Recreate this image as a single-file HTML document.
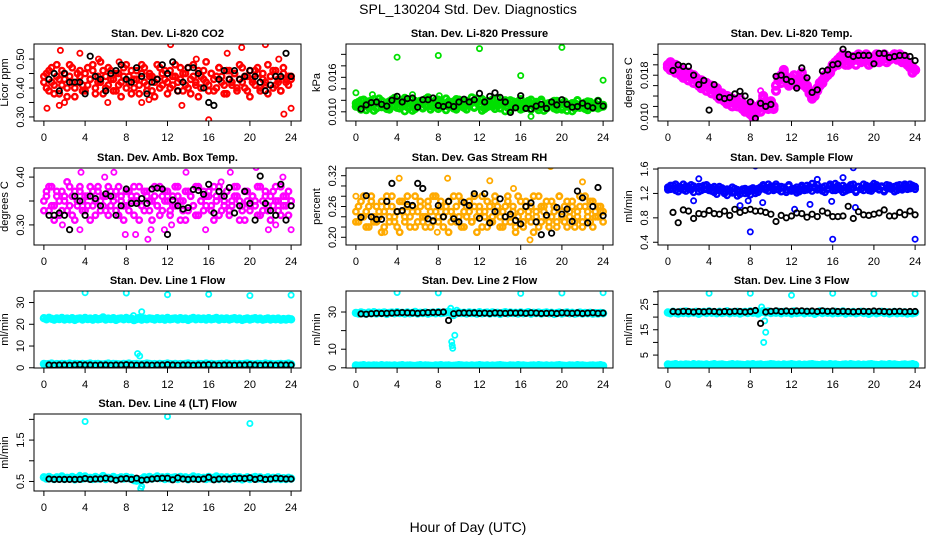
<!DOCTYPE html>
<html><head><meta charset="utf-8"><title>SPL_130204 Std. Dev. Diagnostics</title>
<style>html,body{margin:0;padding:0;background:#fff}svg{display:block;font-family:"Liberation Sans",Arial,sans-serif}</style>
</head><body>
<svg id="chart" width="936" height="540" viewBox="0 0 936 540" xmlns="http://www.w3.org/2000/svg">
<rect x="0" y="0" width="936" height="540" fill="#fff"/>
<text x="468" y="14" text-anchor="middle" font-size="14">SPL_130204  Std. Dev. Diagnostics</text>
<text x="468" y="532" text-anchor="middle" font-size="14">Hour of Day (UTC)</text>
</svg>
<script>
// ---- shared ----
const xTicks=[0,4,8,12,16,20,24];
const blackHours=[0.5,1,1.5,2,2.5,3,3.5,4,4.5,5,5.5,6,6.5,7,7.5,8,8.5,9,9.5,10,10.5,11,11.5,12,12.5,13,13.5,14,14.5,15,15.5,16,16.5,17,17.5,18,18.5,19,19.5,20,20.5,21,21.5,22,22.5,23,23.5,24];
// ---- CO2 ----
const co2A=[0.42,0.45,0.39,0.47,0.41,0.44,0.38,0.46,0.43,0.40,0.48,0.42,0.37,0.45,0.44,0.41,0.39,0.47,0.43,0.46,0.40,0.42,0.49,0.38,0.44,0.41,0.46,0.43,0.39,0.45,0.42,0.47,0.40,0.44,0.38,0.43,0.46,0.41,0.48,0.42,0.39,0.45,0.44,0.37,0.43,0.47,0.41,0.46,0.42,0.40,0.44,0.48,0.39,0.43,0.45,0.41,0.47,0.38,0.44,0.42,0.46,0.40,0.43,0.49,0.41,0.45,0.39,0.44,0.47,0.42,0.38,0.46,0.43,0.41,0.45,0.40,0.48,0.42,0.44,0.39,0.46,0.43,0.41,0.47,0.40,0.45,0.42,0.38,0.44,0.46,0.41,0.43,0.39,0.47,0.42,0.44,0.43];
const co2B=[0.44,0.40,0.46,0.42,0.38,0.48,0.43,0.41,0.45,0.37,0.44,0.47,0.40,0.42,0.46,0.39,0.45,0.41,0.43,0.48,0.38,0.44,0.42,0.46,0.40,0.47,0.43,0.39,0.45,0.41,0.37,0.44,0.48,0.42,0.46,0.40,0.43,0.38,0.45,0.47,0.41,0.44,0.39,0.42,0.48,0.40,0.45,0.43,0.38,0.46,0.41,0.44,0.42,0.47,0.39,0.45,0.40,0.43,0.48,0.41,0.37,0.44,0.46,0.42,0.39,0.45,0.43,0.40,0.47,0.44,0.41,0.38,0.46,0.42,0.45,0.39,0.43,0.47,0.40,0.44,0.37,0.42,0.46,0.45,0.39,0.43,0.41,0.48,0.44,0.40,0.46,0.42,0.39,0.45,0.43,0.41,0.44];
const co2OutX=[0.3,1.6,1.5,2,3.5,6.2,9.5,12.3,13.4,16,17.8,19.2,21.5,23.3,24,22.8,14.8,10.2,5.3,7.3];
const co2OutY=[0.33,0.53,0.34,0.35,0.52,0.35,0.35,0.55,0.34,0.29,0.52,0.54,0.55,0.31,0.33,0.50,0.50,0.36,0.50,0.49];
const co2Black=[0.43,0.45,0.39,0.45,0.42,0.42,0.42,0.38,0.51,0.44,0.43,0.39,0.45,0.46,0.48,0.43,0.42,0.47,0.44,0.38,0.42,0.43,0.48,0.45,0.49,0.39,0.42,0.47,0.47,0.45,0.40,0.35,0.34,0.43,0.46,0.43,0.46,0.43,0.44,0.46,0.44,0.42,0.39,0.41,0.44,0.44,0.52,0.44];
// ---- Pressure ----
const presA=[0.0115,0.0108,0.0120,0.0112,0.0103,0.0118,0.0110,0.0122,0.0106,0.0114,0.0119,0.0109,0.0116,0.0104,0.0121,0.0111,0.0107,0.0118,0.0113,0.0124,0.0108,0.0115,0.0102,0.0119,0.0111,0.0117,0.0106,0.0122,0.0110,0.0114,0.0108,0.0120,0.0105,0.0116,0.0112,0.0123,0.0109,0.0115,0.0118,0.0104,0.0121,0.0111,0.0107,0.0119,0.0113,0.0125,0.0108,0.0116,0.0110,0.0122,0.0105,0.0114,0.0119,0.0109,0.0112,0.0124,0.0106,0.0117,0.0101,0.0115,0.0120,0.0108,0.0113,0.0118,0.0104,0.0111,0.0107,0.0116,0.0121,0.0109,0.0114,0.0103,0.0118,0.0110,0.0106,0.0115,0.0112,0.0119,0.0104,0.0113,0.0108,0.0117,0.0102,0.0111,0.0115,0.0106,0.0120,0.0109,0.0113,0.0105,0.0118,0.0110,0.0107,0.0114,0.0119,0.0108,0.0112];
const presB=[0.0109,0.0117,0.0104,0.0121,0.0113,0.0107,0.0119,0.0102,0.0115,0.0123,0.0108,0.0112,0.0105,0.0118,0.0110,0.0124,0.0114,0.0106,0.0120,0.0101,0.0116,0.0109,0.0122,0.0105,0.0113,0.0119,0.0107,0.0111,0.0125,0.0104,0.0117,0.0110,0.0121,0.0108,0.0114,0.0103,0.0118,0.0112,0.0106,0.0122,0.0109,0.0115,0.0120,0.0104,0.0111,0.0117,0.0107,0.0123,0.0113,0.0102,0.0119,0.0108,0.0114,0.0121,0.0105,0.0110,0.0116,0.0112,0.0120,0.0107,0.0103,0.0118,0.0109,0.0115,0.0122,0.0106,0.0113,0.0119,0.0104,0.0111,0.0117,0.0108,0.0121,0.0102,0.0114,0.0110,0.0116,0.0106,0.0119,0.0112,0.0104,0.0118,0.0109,0.0113,0.0101,0.0115,0.0120,0.0107,0.0111,0.0116,0.0103,0.0117,0.0110,0.0114,0.0106,0.0112,0.0109];
const presOutX=[0,1.6,4,8,12,16,20,24,5.5,0.5,8.1,17];
const presOutY=[0.0133,0.0130,0.0195,0.0198,0.0210,0.0163,0.0212,0.0155,0.0130,0.0105,0.0128,0.0092];
const presBlack=[0.0105,0.0112,0.0116,0.0117,0.0113,0.0110,0.0120,0.0127,0.0117,0.0123,0.0124,0.0108,0.0121,0.0121,0.0124,0.0111,0.0109,0.0112,0.0109,0.0117,0.0122,0.0117,0.0121,0.0132,0.0117,0.0127,0.0133,0.0125,0.0117,0.0099,0.0107,0.0128,0.0106,0.0105,0.0110,0.0113,0.0106,0.0117,0.0112,0.0121,0.0113,0.0108,0.0109,0.0115,0.0110,0.0107,0.0119,0.0110];
// ---- Li-820 Temp ----
const tempA=[0.0200,0.0205,0.0195,0.0200,0.0190,0.0185,0.0190,0.0180,0.0185,0.0175,0.0180,0.0170,0.0165,0.0170,0.0160,0.0165,0.0155,0.0160,0.0150,0.0155,0.0145,0.0140,0.0135,0.0140,0.0130,0.0135,0.0125,0.0130,0.0135,0.0125,0.0120,0.0115,0.0125,0.0110,0.0105,0.0115,0.0125,0.0135,0.0130,0.0120,0.0125,0.0115,0.0160,0.0175,0.0180,0.0185,0.0175,0.0165,0.0170,0.0180,0.0165,0.0175,0.0185,0.0170,0.0160,0.0150,0.0140,0.0145,0.0155,0.0160,0.0170,0.0180,0.0185,0.0190,0.0200,0.0205,0.0210,0.0215,0.0220,0.0215,0.0210,0.0205,0.0215,0.0210,0.0220,0.0215,0.0210,0.0220,0.0215,0.0205,0.0215,0.0220,0.0210,0.0215,0.0220,0.0215,0.0210,0.0215,0.0220,0.0215,0.0220,0.0210,0.0215,0.0205,0.0200,0.0195,0.0190];
const tempB=[0.0195,0.0190,0.0200,0.0185,0.0195,0.0180,0.0175,0.0185,0.0170,0.0180,0.0165,0.0175,0.0160,0.0155,0.0165,0.0150,0.0160,0.0145,0.0155,0.0140,0.0135,0.0145,0.0130,0.0125,0.0135,0.0120,0.0130,0.0120,0.0125,0.0115,0.0110,0.0120,0.0105,0.0100,0.0115,0.0120,0.0110,0.0140,0.0125,0.0115,0.0130,0.0120,0.0150,0.0170,0.0165,0.0190,0.0170,0.0160,0.0175,0.0165,0.0160,0.0170,0.0180,0.0160,0.0155,0.0145,0.0135,0.0140,0.0150,0.0165,0.0165,0.0175,0.0180,0.0185,0.0195,0.0200,0.0200,0.0210,0.0205,0.0200,0.0200,0.0205,0.0210,0.0200,0.0210,0.0205,0.0215,0.0210,0.0200,0.0205,0.0210,0.0215,0.0205,0.0210,0.0215,0.0205,0.0210,0.0215,0.0220,0.0210,0.0215,0.0205,0.0210,0.0200,0.0195,0.0185,0.0190];
const tempOutX=[8.5,9.0,11.2];
const tempOutY=[0.0098,0.0150,0.0190];
const tempBlack=[0.0189,0.0200,0.0197,0.0197,0.0180,0.0162,0.0170,0.0113,0.0162,0.0138,0.0135,0.0137,0.0144,0.0149,0.0140,0.0129,0.0097,0.0126,0.0120,0.0124,0.0178,0.0180,0.0172,0.0168,0.0155,0.0194,0.0175,0.0147,0.0152,0.0188,0.0190,0.0200,0.0202,0.0230,0.0220,0.0216,0.0218,0.0218,0.0218,0.0202,0.0222,0.0222,0.0214,0.0216,0.0218,0.0218,0.0216,0.0208];
// ---- Amb Box Temp ----
const ambA=[0.35,0.37,0.33,0.38,0.34,0.36,0.32,0.37,0.35,0.33,0.38,0.36,0.31,0.34,0.37,0.35,0.33,0.36,0.38,0.34,0.32,0.37,0.35,0.36,0.33,0.38,0.34,0.36,0.37,0.32,0.35,0.34,0.37,0.33,0.36,0.38,0.35,0.31,0.34,0.37,0.36,0.33,0.35,0.38,0.34,0.32,0.36,0.37,0.35,0.33,0.34,0.38,0.36,0.31,0.35,0.37,0.33,0.36,0.34,0.38,0.32,0.35,0.37,0.34,0.36,0.33,0.38,0.35,0.32,0.36,0.34,0.37,0.33,0.35,0.38,0.36,0.31,0.34,0.37,0.35,0.33,0.36,0.34,0.38,0.32,0.35,0.37,0.33,0.36,0.34,0.38,0.35,0.32,0.36,0.34,0.37,0.35];
const ambB=[0.33,0.36,0.38,0.34,0.31,0.37,0.35,0.33,0.36,0.39,0.34,0.32,0.37,0.35,0.38,0.33,0.36,0.34,0.31,0.37,0.35,0.38,0.33,0.34,0.36,0.32,0.37,0.35,0.33,0.38,0.36,0.31,0.34,0.37,0.35,0.32,0.36,0.38,0.34,0.33,0.37,0.35,0.31,0.36,0.34,0.38,0.33,0.35,0.37,0.32,0.36,0.34,0.38,0.35,0.33,0.31,0.37,0.36,0.34,0.32,0.38,0.35,0.33,0.36,0.37,0.34,0.31,0.36,0.38,0.33,0.35,0.37,0.32,0.34,0.36,0.38,0.35,0.33,0.31,0.37,0.34,0.36,0.35,0.32,0.38,0.33,0.36,0.34,0.31,0.37,0.35,0.33,0.38,0.34,0.36,0.32,0.35];
const ambOutX=[3.6,5.9,6.8,7.9,8.9,10.1,10.4,11.7,13.8,15.7,18.1,20.6,21.8,22.5,23.2,24,3.5,1.8,12.4,17.2];
const ambOutY=[0.41,0.40,0.41,0.28,0.28,0.27,0.29,0.29,0.41,0.29,0.41,0.42,0.29,0.30,0.40,0.29,0.29,0.30,0.30,0.39];
const ambBlack=[0.32,0.32,0.325,0.32,0.29,0.36,0.35,0.32,0.36,0.355,0.34,0.365,0.36,0.32,0.34,0.375,0.345,0.345,0.355,0.345,0.375,0.377,0.375,0.28,0.352,0.34,0.333,0.336,0.374,0.372,0.364,0.385,0.325,0.37,0.36,0.378,0.325,0.34,0.37,0.345,0.31,0.402,0.345,0.33,0.32,0.385,0.31,0.34];
// ---- Gas Stream RH ----
const rhA=[0.25,0.23,0.27,0.24,0.22,0.26,0.28,0.24,0.23,0.25,0.27,0.22,0.26,0.24,0.28,0.23,0.25,0.21,0.27,0.24,0.26,0.22,0.25,0.28,0.23,0.26,0.24,0.22,0.27,0.25,0.23,0.28,0.24,0.26,0.22,0.25,0.27,0.23,0.24,0.26,0.28,0.22,0.25,0.24,0.27,0.23,0.26,0.21,0.25,0.28,0.24,0.22,0.26,0.23,0.27,0.25,0.24,0.22,0.26,0.28,0.23,0.25,0.21,0.24,0.27,0.22,0.26,0.25,0.23,0.28,0.24,0.22,0.26,0.25,0.27,0.23,0.24,0.26,0.22,0.28,0.25,0.23,0.27,0.24,0.26,0.22,0.25,0.28,0.23,0.26,0.24,0.27,0.22,0.25,0.24,0.26,0.25];
const rhB=[0.23,0.26,0.24,0.28,0.25,0.22,0.27,0.23,0.26,0.24,0.21,0.25,0.28,0.23,0.26,0.24,0.22,0.27,0.25,0.23,0.28,0.24,0.26,0.22,0.25,0.27,0.23,0.24,0.26,0.22,0.28,0.25,0.23,0.27,0.24,0.26,0.21,0.25,0.28,0.23,0.24,0.27,0.22,0.26,0.25,0.23,0.28,0.24,0.26,0.22,0.25,0.27,0.23,0.24,0.28,0.26,0.22,0.25,0.23,0.27,0.24,0.26,0.22,0.28,0.25,0.23,0.27,0.24,0.26,0.21,0.25,0.28,0.23,0.26,0.24,0.22,0.27,0.25,0.23,0.28,0.24,0.26,0.22,0.25,0.27,0.23,0.24,0.26,0.22,0.28,0.25,0.23,0.27,0.24,0.26,0.25,0.23];
const rhOutX=[4.2,8.9,13,15.3,18.9,22,2.8,0,16.9,7.9];
const rhOutY=[0.315,0.315,0.31,0.295,0.338,0.308,0.21,0.28,0.195,0.21];
const rhBlack=[0.239,0.281,0.24,0.235,0.235,0.27,0.305,0.25,0.252,0.264,0.262,0.305,0.295,0.236,0.232,0.262,0.24,0.27,0.236,0.23,0.268,0.262,0.285,0.237,0.285,0.228,0.25,0.275,0.24,0.245,0.233,0.226,0.26,0.267,0.23,0.205,0.243,0.208,0.258,0.245,0.255,0.231,0.29,0.277,0.228,0.26,0.297,0.242];
// ---- Sample Flow ----
const flowA=[1.30,1.27,1.33,1.25,1.31,1.28,1.35,1.24,1.30,1.26,1.32,1.29,1.23,1.31,1.27,1.34,1.25,1.29,1.22,1.28,1.31,1.26,1.20,1.27,1.24,1.30,1.22,1.26,1.19,1.25,1.28,1.21,1.27,1.24,1.20,1.28,1.30,1.33,1.26,1.35,1.29,1.25,1.31,1.27,1.23,1.30,1.26,1.32,1.24,1.28,1.21,1.27,1.30,1.25,1.33,1.28,1.36,1.31,1.26,1.29,1.24,1.32,1.27,1.35,1.30,1.25,1.33,1.28,1.22,1.30,1.26,1.34,1.29,1.24,1.31,1.27,1.35,1.30,1.25,1.32,1.28,1.34,1.26,1.30,1.23,1.29,1.33,1.27,1.31,1.25,1.34,1.29,1.32,1.27,1.35,1.30,1.31];
const flowB=[1.26,1.33,1.28,1.35,1.23,1.30,1.26,1.32,1.28,1.34,1.22,1.29,1.31,1.25,1.33,1.27,1.30,1.24,1.31,1.19,1.25,1.29,1.23,1.17,1.26,1.21,1.28,1.16,1.24,1.27,1.20,1.25,1.18,1.29,1.26,1.22,1.27,1.34,1.30,1.24,1.32,1.28,1.35,1.26,1.31,1.29,1.22,1.34,1.27,1.25,1.30,1.23,1.33,1.28,1.26,1.31,1.24,1.29,1.34,1.27,1.30,1.22,1.28,1.32,1.25,1.36,1.29,1.26,1.33,1.24,1.30,1.27,1.35,1.22,1.31,1.28,1.25,1.33,1.29,1.24,1.36,1.30,1.27,1.32,1.25,1.34,1.28,1.30,1.23,1.33,1.29,1.26,1.35,1.31,1.28,1.33,1.27];
const flowOutX=[8.5,18,16,24,8,3,2.5,7,13.8,15.9,18.2,12.3,7.8,9.2,14.5,17];
const flowOutY=[1.65,1.62,0.45,0.45,0.57,1.44,1.08,1.0,1.02,1.07,0.97,0.94,1.08,1.05,1.43,1.46];
const flowBlack=[0.89,0.72,0.93,0.91,0.79,0.87,0.86,0.92,0.87,0.86,0.91,0.84,0.94,0.89,0.92,0.94,0.91,0.91,0.89,0.86,0.74,0.84,0.80,0.83,0.88,0.87,0.81,0.86,0.82,0.91,0.88,0.82,0.82,0.83,0.99,0.79,0.90,0.85,0.84,0.86,0.88,0.93,0.83,0.83,0.89,0.85,0.91,0.85];
// ---- Line 1 Flow ----
const l1High=[22.8,22.3,23.0,22.5,22.1,22.7,22.4,22.9,22.2,22.6,22.3,22.8,22.0,22.5,22.7,22.2,22.9,22.4,22.6,22.1,22.8,22.3,22.5,23.1,22.2,22.6,22.4,22.8,22.0,22.5,22.7,22.3,22.9,22.4,22.6,21.9,22.4,22.9,22.1,22.6,22.3,22.7,22.5,22.2,22.8,22.4,22.6,22.1,22.9,22.3,22.5,22.7,22.2,22.8,22.4,22.6,22.0,22.5,22.9,22.3,22.7,22.4,22.6,22.2,22.8,22.3,22.5,22.9,22.1,22.6,22.4,22.7,22.2,22.5,22.8,22.3,22.6,22.0,22.4,22.7,22.2,22.5,22.8,22.3,22.6,22.1,22.4,22.7,22.2,22.5,22.3,22.6,22.1,22.4,22.2,22.5,22.3];
const l1Low=[1.8,1.6,1.7,1.9,1.5,1.7,1.6,1.8,1.7,1.5,1.9,1.6,1.8,1.7,1.6,1.8,1.5,1.7,1.9,1.6,1.7,1.8,1.6,1.5,1.7,1.9,1.6,1.8,1.7,1.6,1.5,1.8,1.7,1.9,1.6,1.7,1.8,1.5,1.6,1.7,1.9,1.8,1.6,1.7,1.5,1.8,1.6,1.7,1.9,1.7,1.6,1.8,1.5,1.7,1.6,1.8,1.9,1.7,1.6,1.5,1.8,1.7,1.6,1.9,1.7,1.8,1.6,1.5,1.7,1.8,1.6,1.9,1.7,1.6,1.8,1.5,1.7,1.6,1.8,1.9,1.7,1.6,1.5,1.8,1.7,1.6,1.9,1.7,1.8,1.6,1.5,1.7,1.8,1.6,1.7,1.9,1.6];
const l1OutX=[4,8,12,16,20,24,8.7,9.5,9.1,9.3];
const l1OutY=[34.5,34.4,33.6,33.8,33.2,33.4,24,25.8,6.5,5.4];
const l1Black=[1.3,1.2,1.3,1.3,1.2,1.3,1.4,1.3,1.3,1.2,1.3,1.3,1.2,1.3,1.3,1.4,1.3,1.2,1.3,1.3,1.2,1.3,1.3,1.4,1.3,1.2,1.3,1.3,1.2,1.3,1.3,1.4,1.3,1.2,1.3,1.3,1.2,1.3,1.3,1.4,1.3,1.2,1.3,1.3,1.2,1.3,1.3,1.3];
// ---- Line 2 Flow ----
const l2High=[29.5,29.2,29.8,29.4,29.1,29.7,29.3,29.9,29.2,29.6,29.4,29.8,29.0,29.5,29.7,29.3,29.9,29.4,29.6,29.2,29.8,29.3,29.5,30.0,29.2,29.6,29.4,29.8,29.1,29.5,29.7,29.3,29.9,29.4,29.6,29.8,30.1,29.5,29.9,29.3,29.7,29.4,29.6,29.2,29.8,29.4,29.6,29.1,29.9,29.3,29.5,29.7,29.2,29.8,29.4,29.6,29.0,29.5,29.9,29.3,29.7,29.4,29.6,29.2,29.8,29.3,29.5,29.9,29.1,29.6,29.4,29.7,29.2,29.5,29.8,29.3,29.6,29.0,29.4,29.7,29.2,29.5,29.8,29.3,29.6,29.1,29.4,29.7,29.2,29.5,29.3,29.6,29.1,29.4,29.2,29.5,29.3];
const l2Low=[1.3,1.1,1.2,1.4,1.0,1.2,1.1,1.3,1.2,1.0,1.4,1.1,1.3,1.2,1.1,1.3,1.0,1.2,1.4,1.1,1.2,1.3,1.1,1.0,1.2,1.4,1.1,1.3,1.2,1.1,1.0,1.3,1.2,1.4,1.1,1.2,1.3,1.0,1.1,1.2,1.4,1.3,1.1,1.2,1.0,1.3,1.1,1.2,1.4,1.2,1.1,1.3,1.0,1.2,1.1,1.3,1.4,1.2,1.1,1.0,1.3,1.2,1.1,1.4,1.2,1.3,1.1,1.0,1.2,1.3,1.1,1.4,1.2,1.1,1.3,1.0,1.2,1.1,1.3,1.4,1.2,1.1,1.0,1.3,1.2,1.1,1.4,1.2,1.3,1.1,1.0,1.2,1.3,1.1,1.2,1.4,1.1];
const l2OutX=[4,8,16,20,24,9.2,9.3,9.35,9.4,9.6,9.8,9.5];
const l2OutY=[40.5,40.3,40.0,40.2,40.4,32,14,12,10.5,17.5,31,28];
const l2Black=[29.0,28.8,29.1,29.3,29.2,29.3,29.4,29.6,29.7,29.6,29.5,29.3,29.6,29.7,29.8,29.8,30.0,25.5,29.1,29.4,29.5,29.4,29.5,29.3,29.4,29.2,29.5,29.4,29.3,29.5,29.4,29.5,29.3,29.6,29.4,29.2,29.3,29.4,29.2,29.6,29.4,29.3,29.5,29.2,29.4,29.6,29.3,29.4];
// ---- Line 3 Flow ----
const l3High=[21.8,21.5,22.1,21.7,21.4,22.0,21.6,22.2,21.5,21.9,21.7,22.1,21.3,21.8,22.0,21.6,22.2,21.7,21.9,21.5,22.1,21.6,21.8,22.3,21.5,21.9,21.7,22.1,21.4,21.8,22.0,21.6,22.2,21.7,21.9,21.4,22.0,22.4,21.8,22.2,21.6,21.9,21.7,22.1,21.5,22.0,21.7,21.9,21.4,22.2,21.6,21.8,22.0,21.5,22.1,21.7,21.9,21.3,21.8,22.2,21.6,22.0,21.7,21.9,21.5,22.1,21.6,21.8,22.2,21.4,21.9,21.7,22.0,21.5,21.8,22.1,21.6,21.9,21.3,21.7,22.0,21.5,21.8,22.1,21.6,21.9,21.4,21.7,22.0,21.5,21.8,21.6,21.9,21.4,21.7,21.5,21.8];
const l3Low=[1.3,1.1,1.2,1.4,1.0,1.2,1.1,1.3,1.2,1.0,1.4,1.1,1.3,1.2,1.1,1.3,1.0,1.2,1.4,1.1,1.2,1.3,1.1,1.0,1.2,1.4,1.1,1.3,1.2,1.1,1.0,1.3,1.2,1.4,1.1,1.2,1.3,1.0,1.1,1.2,1.4,1.3,1.1,1.2,1.0,1.3,1.1,1.2,1.4,1.2,1.1,1.3,1.0,1.2,1.1,1.3,1.4,1.2,1.1,1.0,1.3,1.2,1.1,1.4,1.2,1.3,1.1,1.0,1.2,1.3,1.1,1.4,1.2,1.1,1.3,1.0,1.2,1.1,1.3,1.4,1.2,1.1,1.0,1.3,1.2,1.1,1.4,1.2,1.3,1.1,1.0,1.2,1.3,1.1,1.2,1.4,1.1];
const l3OutX=[4,8,12,16,20,24,9.1,9.3,9.5,9.4];
const l3OutY=[29.4,29.4,28.6,29.4,29.2,29.2,24,10,14,18.5];
const l3Black=[22.2,22.1,22.3,22.2,22.0,22.2,22.1,22.3,22.2,22.0,22.2,22.1,22.3,22.2,22.0,22.2,22.6,17.5,22.0,22.3,22.5,22.2,22.4,22.3,22.4,22.5,22.3,22.4,22.2,22.5,22.3,22.4,22.2,22.3,22.2,22.1,22.2,22.3,22.2,22.4,22.3,22.2,22.1,22.2,22.3,22.1,22.2,22.2];
// ---- Line 4 (LT) Flow ----
const l4High=[0.60,0.57,0.61,0.58,0.56,0.60,0.57,0.62,0.56,0.59,0.58,0.61,0.55,0.59,0.60,0.57,0.62,0.58,0.59,0.56,0.61,0.57,0.59,0.63,0.56,0.59,0.58,0.61,0.55,0.58,0.60,0.57,0.61,0.58,0.59,0.53,0.52,0.54,0.56,0.60,0.58,0.61,0.57,0.59,0.62,0.58,0.60,0.56,0.61,0.57,0.59,0.60,0.56,0.61,0.58,0.60,0.55,0.59,0.62,0.57,0.60,0.58,0.59,0.56,0.61,0.57,0.59,0.62,0.56,0.60,0.58,0.60,0.56,0.59,0.61,0.57,0.60,0.55,0.58,0.60,0.56,0.59,0.61,0.57,0.60,0.56,0.58,0.60,0.56,0.59,0.57,0.60,0.56,0.58,0.56,0.59,0.57];
const l4OutX=[4,12,20,9.4,9.5,3.5];
const l4OutY=[1.95,2.07,1.90,0.33,0.38,0.65];
const l4Black=[0.56,0.55,0.55,0.55,0.55,0.55,0.55,0.57,0.55,0.56,0.56,0.58,0.56,0.53,0.56,0.57,0.55,0.58,0.53,0.54,0.56,0.57,0.58,0.58,0.54,0.59,0.56,0.55,0.56,0.55,0.56,0.60,0.54,0.56,0.56,0.56,0.57,0.58,0.57,0.59,0.55,0.58,0.55,0.56,0.58,0.57,0.56,0.56];

const NS='http://www.w3.org/2000/svg';
const svg=document.getElementById('chart');
const colsX=[34,346,658], rowsY=[44,168,291,414], PW=267, PH=77;
function el(tag,attrs,parent){const e=document.createElementNS(NS,tag);for(const k in attrs)e.setAttribute(k,attrs[k]);(parent||svg).appendChild(e);return e;}
function evenHours(n){const r=[];for(let i=0;i<n;i++)r.push(i*24/(n-1));return r;}

function panel(p){
  const L=colsX[p.c],T=rowsY[p.r];
  const mr=p.mr||2.6, mw=p.mw||2.2;
  const g=el('g',{});
  
  
  const sx=h=>L+(h+0.96)/25.92*PW;
  const sy=v=>T+(p.yTop-v)/(p.yTop-p.yBot)*PH;
  const clip='clip-'+p.name;
  const cp=el('clipPath',{id:clip},g);
  el('rect',{x:L,y:T,width:PW,height:PH},cp);
  const t=el('text',{x:L+PW/2,y:T-7,'text-anchor':'middle','font-size':'11','font-weight':'bold'},g);
  t.textContent=p.title;
  
  
  const yl=el('text',{transform:`translate(${L-26},${T+PH/2}) rotate(-90)`,'text-anchor':'middle','font-size':'11'},g);
  yl.textContent=p.ylab;
  
  
  const xa=el('g',{},g);
  
  
  el('line',{x1:sx(0),x2:sx(24),y1:T+PH,y2:T+PH,stroke:'#000'},xa);
  xTicks.forEach(h=>{
    el('line',{x1:sx(h),x2:sx(h),y1:T+PH,y2:T+PH+5,stroke:'#000'},xa);
    const tx=el('text',{x:sx(h),y:T+PH+20,'text-anchor':'middle','font-size':'11'},xa);
    tx.textContent=String(h);
  });
  const ya=el('g',{},g);
  
  
  p.yTicks.forEach(v=>{
    el('line',{x1:L-5,x2:L,y1:sy(v),y2:sy(v),stroke:'#000'},ya);
  });
  p.yLabels.forEach(s=>{
    const ty=el('text',{transform:`translate(${L-10},${sy(parseFloat(s))}) rotate(-90)`,'text-anchor':'middle','font-size':'11'},ya);
    ty.textContent=s;
  });
  const mk=el('g',{'clip-path':`url(#${clip})`},g);
  
  
  p.series.forEach(arr=>{
    const hs=evenHours(arr.length);
    arr.forEach((v,i)=>{
      const c=el('circle',{cx:sx(hs[i]).toFixed(1),cy:sy(v).toFixed(1),r:mr,fill:'none',stroke:p.color,'stroke-width':mw},mk);
      
      
    });
  });
  p.outX.forEach((h,i)=>{
    const c=el('circle',{cx:sx(h).toFixed(1),cy:sy(p.outY[i]).toFixed(1),r:2.6,fill:'none',stroke:p.color,'stroke-width':1.8},mk);
    
    
  });
  p.black.forEach((v,i)=>{
    const c=el('circle',{cx:sx(blackHours[i]).toFixed(1),cy:sy(v).toFixed(1),r:2.7,fill:'none',stroke:'#000','stroke-width':1.8},mk);
    
    
  });
  const b=el('rect',{x:L,y:T,width:PW,height:PH,fill:'none',stroke:'#000','stroke-width':1},g);
  
  
}

panel({name:'co2',c:0,r:0,title:'Stan. Dev. Li-820 CO2',ylab:'Licor ppm',color:'#ff0000',yTop:0.552,yBot:0.286,mr:2.7,mw:2.4,
  yTicks:[0.30,0.35,0.40,0.45,0.50],yLabels:['0.30','0.40','0.50'],series:[co2A,co2B],outX:co2OutX,outY:co2OutY,black:co2Black});
panel({name:'pressure',c:1,r:0,title:'Stan. Dev. Li-820 Pressure',ylab:'kPa',color:'#00e000',yTop:0.0218,yBot:0.0084,mr:2.8,mw:2.8,
  yTicks:[0.010,0.012,0.014,0.016,0.018,0.020],yLabels:['0.010','0.016'],series:[presA,presB],outX:presOutX,outY:presOutY,black:presBlack});
panel({name:'li820-temp',c:2,r:0,title:'Stan. Dev. Li-820 Temp.',ylab:'degrees C',color:'#ff00ff',yTop:0.0240,yBot:0.0092,mr:3.4,mw:3.4,
  yTicks:[0.010,0.012,0.014,0.016,0.018,0.020,0.022],yLabels:['0.010','0.018'],series:[tempA,tempB],outX:tempOutX,outY:tempOutY,black:tempBlack});
panel({name:'amb-box-temp',c:0,r:1,title:'Stan. Dev. Amb. Box Temp.',ylab:'degrees C',color:'#ff00ff',yTop:0.419,yBot:0.258,mr:2.7,mw:2.4,
  yTicks:[0.30,0.35,0.40],yLabels:['0.30','0.40'],series:[ambA,ambB],outX:ambOutX,outY:ambOutY,black:ambBlack});
panel({name:'gas-stream-rh',c:1,r:1,title:'Stan. Dev. Gas Stream RH',ylab:'percent',color:'#ffaa00',yTop:0.335,yBot:0.185,mr:2.7,mw:2.4,
  yTicks:[0.20,0.22,0.24,0.26,0.28,0.30,0.32],yLabels:['0.20','0.26','0.32'],series:[rhA,rhB],outX:rhOutX,outY:rhOutY,black:rhBlack});
panel({name:'sample-flow',c:2,r:1,title:'Stan. Dev. Sample Flow',ylab:'ml/min',color:'#0000ff',yTop:1.617,yBot:0.355,mr:2.7,mw:2.4,
  yTicks:[0.4,0.8,1.2,1.6],yLabels:['0.4','0.8','1.2','1.6'],series:[flowA,flowB],outX:flowOutX,outY:flowOutY,black:flowBlack});
panel({name:'line1-flow',c:0,r:2,title:'Stan. Dev. Line 1 Flow',ylab:'ml/min',color:'#00ffff',yTop:35.3,yBot:-0.1,mr:2.8,mw:2.8,
  yTicks:[0,10,20,30],yLabels:['0','10','20','30'],series:[l1High,l1Low],outX:l1OutX,outY:l1OutY,black:l1Black});
panel({name:'line2-flow',c:1,r:2,title:'Stan. Dev. Line 2 Flow',ylab:'ml/min',color:'#00ffff',yTop:41.3,yBot:-0.1,mr:2.8,mw:2.8,
  yTicks:[0,10,20,30],yLabels:['0','10','30'],series:[l2High,l2Low],outX:l2OutX,outY:l2OutY,black:l2Black});
panel({name:'line3-flow',c:2,r:2,title:'Stan. Dev. Line 3 Flow',ylab:'ml/min',color:'#00ffff',yTop:30.3,yBot:-0.1,mr:2.8,mw:2.8,
  yTicks:[5,10,15,20,25,30],yLabels:['5','15','25'],series:[l3High,l3Low],outX:l3OutX,outY:l3OutY,black:l3Black});
panel({name:'line4-flow',c:0,r:3,title:'Stan. Dev. Line 4 (LT) Flow',ylab:'ml/min',color:'#00ffff',yTop:2.13,yBot:0.27,mr:2.8,mw:2.8,
  yTicks:[0.5,1.0,1.5,2.0],yLabels:['0.5','1.5'],series:[l4High],outX:l4OutX,outY:l4OutY,black:l4Black});
</script>
</body></html>
